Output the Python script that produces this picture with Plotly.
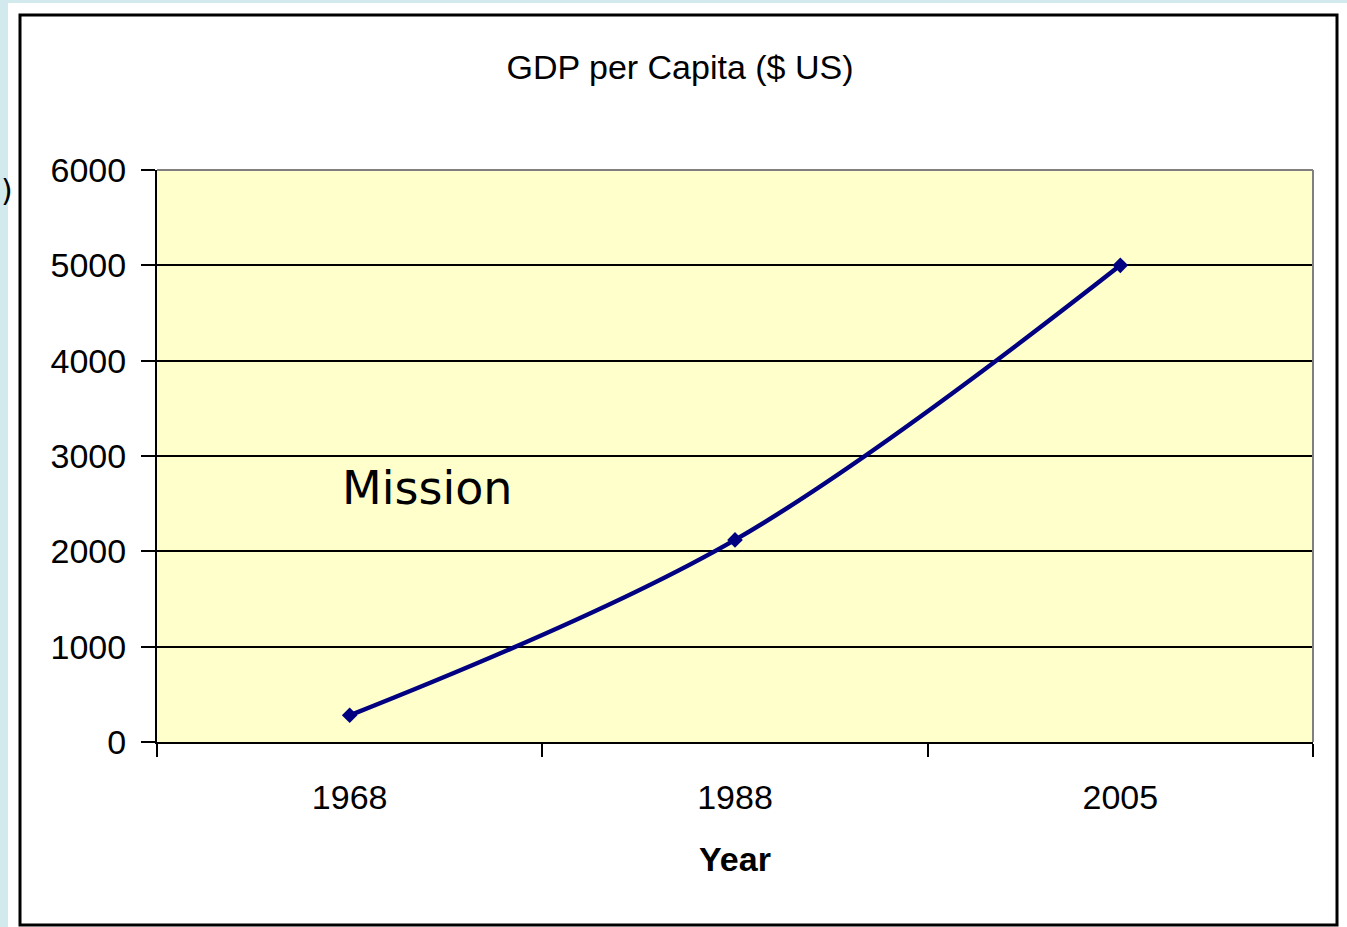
import plotly.graph_objects as go

years = ["1968", "1988", "2005"]
gdp = [280, 2120, 5000]
y_ticks = [0, 1000, 2000, 3000, 4000, 5000, 6000]

W, H = 1347, 927
L, R, T, B = 157, 1313, 170, 742
pw, ph = R - L, B - T

def px(x):
    return (x - L) / pw

def py(y):
    return (B - y) / ph

font_main = "Liberation Sans, Arial, sans-serif"

fig = go.Figure()
fig.add_trace(go.Scatter(
    x=years, y=gdp, mode="lines+markers",
    line=dict(color="#000080", width=4.5, shape="spline"),
    marker=dict(symbol="diamond", size=12, color="#000080"),
    showlegend=False,
))

fig.update_layout(
    width=W, height=H,
    margin=dict(l=L, r=W - R, t=T, b=H - B),
    paper_bgcolor="#D2E9EE",
    plot_bgcolor="#FFFFCC",
    font=dict(family=font_main, size=34, color="black"),
    title=dict(text="GDP per Capita ($ US)", x=px(680), xref="paper", xanchor="center",
               y=1 - 67 / H, yanchor="middle", font=dict(size=34, family=font_main)),
    xaxis=dict(
        type="category", range=[-0.5, 2.5], tickson="boundaries",
        ticks="outside", ticklen=13, tickwidth=2, tickcolor="black",
        showline=True, linecolor="black", linewidth=2, showgrid=False,
        ticklabelstandoff=24,
        title=dict(text="<b>Year</b>", font=dict(size=34, family=font_main), standoff=32),
    ),
    yaxis=dict(
        range=[0, 6000], tickvals=y_ticks, ticks="outside", ticklen=14, tickwidth=2,
        tickcolor="black", showline=True, linecolor="black", linewidth=2,
        showgrid=True, gridcolor="black", gridwidth=2, zeroline=False,
        ticklabelstandoff=8,
    ),
    shapes=[
        dict(type="rect", xref="paper", yref="paper", layer="below",
             x0=px(8), x1=px(1360), y0=py(940), y1=py(3),
             fillcolor="white", line=dict(width=0)),
        dict(type="rect", xref="paper", yref="paper", layer="below",
             x0=px(20), x1=px(1337), y0=py(925), y1=py(15),
             fillcolor="white", line=dict(color="black", width=3)),
        dict(type="rect", xref="paper", yref="paper", layer="below",
             x0=0, x1=1, y0=0, y1=1,
             fillcolor="#FFFFCC", line=dict(width=0)),
        dict(type="line", xref="paper", yref="paper", layer="above",
             x0=0, x1=1, y0=1, y1=1, line=dict(color="#808080", width=2)),
        dict(type="line", xref="paper", yref="paper", layer="above",
             x0=1, x1=1, y0=0, y1=1, line=dict(color="#808080", width=2)),
    ],
    annotations=[
        dict(text="Mission", xref="paper", yref="paper", x=px(340), y=py(488),
             xanchor="left", yanchor="middle", showarrow=False,
             font=dict(family="DejaVu Sans, Verdana, sans-serif", size=46, color="black")),
        dict(text=")", xref="paper", yref="paper", x=px(15), y=py(191),
             xanchor="right", yanchor="middle", showarrow=False,
             font=dict(family="DejaVu Sans, sans-serif", size=30, color="black")),
    ],
)

fig.write_html("out.html", config={"displayModeBar": False},
               post_script="document.body.style.margin='0';document.body.style.overflow='hidden';")
